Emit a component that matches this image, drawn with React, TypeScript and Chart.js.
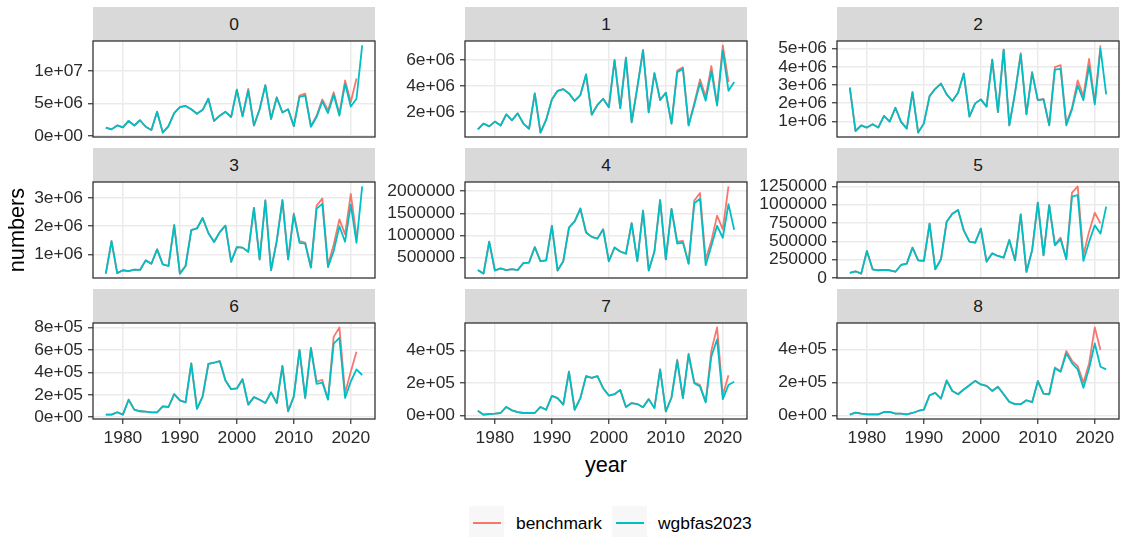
import React, { useEffect, useRef } from 'react';
import { Chart, registerables } from 'chart.js';

Chart.register(...registerables);

// ---------- data ----------
const years = [
  1977, 1978, 1979, 1980, 1981, 1982, 1983, 1984, 1985, 1986,
  1987, 1988, 1989, 1990, 1991, 1992, 1993, 1994, 1995, 1996,
  1997, 1998, 1999, 2000, 2001, 2002, 2003, 2004, 2005, 2006,
  2007, 2008, 2009, 2010, 2011, 2012, 2013, 2014, 2015, 2016,
  2017, 2018, 2019, 2020, 2021, 2022,
];

const ageClasses = ['0', '1', '2', '3', '4', '5', '6', '7', '8'];
const seriesNames = ['benchmark', 'wgbfas2023'];

const wgb0 = [1.26e6, 1.0e6, 1.6e6, 1.3e6, 2.3e6, 1.6e6, 2.4e6, 1.4e6, 0.9e6, 3.7e6, 0.5e6, 1.5e6, 3.5e6, 4.4e6, 4.6e6, 4.1e6, 3.4e6, 4.0e6, 5.7e6, 2.3e6, 3.1e6, 3.7e6, 2.9e6, 7.1e6, 3.0e6, 7.0e6, 1.6e6, 4.1e6, 7.8e6, 2.6e6, 5.9e6, 3.6e6, 4.1e6, 1.5e6, 6.0e6, 6.2e6, 1.4e6, 2.9e6, 5.3e6, 3.5e6, 6.3e6, 3.1e6, 8.0e6, 4.5e6, 5.7e6, 13.9e6];
const bench0 = [1.26e6, 1.0e6, 1.6e6, 1.3e6, 2.3e6, 1.6e6, 2.4e6, 1.4e6, 0.9e6, 3.7e6, 0.5e6, 1.5e6, 3.5e6, 4.4e6, 4.6e6, 4.1e6, 3.4e6, 4.0e6, 5.7e6, 2.3e6, 3.1e6, 3.7e6, 2.9e6, 7.1e6, 3.0e6, 7.2e6, 1.6e6, 4.1e6, 7.8e6, 2.6e6, 5.9e6, 3.6e6, 4.1e6, 1.5e6, 6.2e6, 6.5e6, 1.5e6, 3.1e6, 5.6e6, 3.9e6, 6.7e6, 3.4e6, 8.5e6, 5.2e6, 8.8e6];

const wgb1 = [0.67e6, 1.12e6, 0.9e6, 1.27e6, 0.97e6, 1.83e6, 1.37e6, 1.9e6, 1.12e6, 0.72e6, 3.44e6, 0.42e6, 1.42e6, 2.98e6, 3.64e6, 3.77e6, 3.44e6, 2.86e6, 3.31e6, 4.9e6, 1.8e6, 2.56e6, 3.03e6, 2.38e6, 6.0e6, 2.3e6, 6.16e6, 1.22e6, 3.9e6, 6.76e6, 1.98e6, 5.0e6, 2.93e6, 3.49e6, 1.12e6, 5.07e6, 5.33e6, 0.97e6, 2.56e6, 4.24e6, 2.88e6, 5.15e6, 2.5e6, 6.76e6, 3.64e6, 4.32e6];
const bench1 = [0.67e6, 1.12e6, 0.9e6, 1.27e6, 0.97e6, 1.83e6, 1.37e6, 1.9e6, 1.12e6, 0.72e6, 3.44e6, 0.42e6, 1.42e6, 2.98e6, 3.64e6, 3.77e6, 3.44e6, 2.86e6, 3.31e6, 4.9e6, 1.8e6, 2.56e6, 3.03e6, 2.38e6, 6.0e6, 2.3e6, 6.22e6, 1.22e6, 3.9e6, 6.8e6, 1.98e6, 5.0e6, 2.93e6, 3.49e6, 1.12e6, 5.2e6, 5.45e6, 1.0e6, 2.7e6, 4.52e6, 3.19e6, 5.55e6, 2.6e6, 7.14e6, 4.32e6];

const wgb2 = [2.85e6, 0.47e6, 0.78e6, 0.66e6, 0.84e6, 0.66e6, 1.3e6, 0.99e6, 1.75e6, 0.97e6, 0.6e6, 2.61e6, 0.38e6, 0.89e6, 2.39e6, 2.79e6, 3.08e6, 2.48e6, 2.12e6, 2.57e6, 3.63e6, 1.26e6, 1.99e6, 2.21e6, 1.81e6, 4.4e6, 1.51e6, 4.95e6, 0.78e6, 2.57e6, 4.67e6, 1.39e6, 3.67e6, 2.17e6, 2.21e6, 0.78e6, 3.85e6, 3.89e6, 0.78e6, 1.66e6, 2.97e6, 2.17e6, 4.03e6, 1.93e6, 5.0e6, 2.48e6];
const bench2 = [2.85e6, 0.47e6, 0.78e6, 0.66e6, 0.84e6, 0.66e6, 1.3e6, 0.99e6, 1.75e6, 0.97e6, 0.6e6, 2.61e6, 0.38e6, 0.89e6, 2.39e6, 2.79e6, 3.08e6, 2.48e6, 2.12e6, 2.57e6, 3.63e6, 1.26e6, 1.99e6, 2.21e6, 1.81e6, 4.4e6, 1.51e6, 4.95e6, 0.78e6, 2.57e6, 4.75e6, 1.39e6, 3.72e6, 2.17e6, 2.23e6, 0.8e6, 3.98e6, 4.09e6, 0.89e6, 1.75e6, 3.25e6, 2.39e6, 4.43e6, 2.03e6, 5.18e6];

const wgb3 = [0.32e6, 1.47e6, 0.34e6, 0.44e6, 0.41e6, 0.46e6, 0.45e6, 0.79e6, 0.67e6, 1.18e6, 0.65e6, 0.59e6, 2.04e6, 0.32e6, 0.59e6, 1.86e6, 1.92e6, 2.29e6, 1.76e6, 1.44e6, 1.79e6, 2.02e6, 0.74e6, 1.26e6, 1.24e6, 1.09e6, 2.65e6, 0.82e6, 2.91e6, 0.44e6, 1.47e6, 2.91e6, 0.82e6, 2.41e6, 1.41e6, 1.38e6, 0.53e6, 2.62e6, 2.79e6, 0.55e6, 1.12e6, 2.0e6, 1.45e6, 2.76e6, 1.41e6, 3.41e6];
const bench3 = [0.32e6, 1.47e6, 0.34e6, 0.44e6, 0.41e6, 0.46e6, 0.45e6, 0.79e6, 0.67e6, 1.18e6, 0.65e6, 0.59e6, 2.04e6, 0.32e6, 0.59e6, 1.86e6, 1.92e6, 2.29e6, 1.76e6, 1.44e6, 1.79e6, 2.02e6, 0.74e6, 1.26e6, 1.24e6, 1.09e6, 2.65e6, 0.82e6, 2.91e6, 0.44e6, 1.47e6, 2.93e6, 0.83e6, 2.45e6, 1.47e6, 1.42e6, 0.55e6, 2.73e6, 2.98e6, 0.62e6, 1.35e6, 2.24e6, 1.71e6, 3.14e6, 1.65e6];

const wgb4 = [0.22e6, 0.14e6, 0.86e6, 0.21e6, 0.26e6, 0.22e6, 0.24e6, 0.22e6, 0.38e6, 0.39e6, 0.74e6, 0.42e6, 0.44e6, 1.22e6, 0.21e6, 0.42e6, 1.18e6, 1.32e6, 1.61e6, 1.07e6, 0.97e6, 0.93e6, 1.14e6, 0.42e6, 0.73e6, 0.64e6, 0.59e6, 1.28e6, 0.42e6, 1.56e6, 0.21e6, 0.64e6, 1.8e6, 0.46e6, 1.6e6, 0.82e6, 0.84e6, 0.36e6, 1.73e6, 1.83e6, 0.33e6, 0.77e6, 1.22e6, 0.95e6, 1.71e6, 1.13e6];
const bench4 = [0.22e6, 0.14e6, 0.86e6, 0.21e6, 0.26e6, 0.22e6, 0.24e6, 0.22e6, 0.38e6, 0.39e6, 0.74e6, 0.42e6, 0.44e6, 1.22e6, 0.21e6, 0.42e6, 1.18e6, 1.32e6, 1.61e6, 1.07e6, 0.97e6, 0.93e6, 1.14e6, 0.42e6, 0.73e6, 0.64e6, 0.59e6, 1.28e6, 0.42e6, 1.56e6, 0.21e6, 0.64e6, 1.8e6, 0.46e6, 1.6e6, 0.86e6, 0.88e6, 0.37e6, 1.79e6, 1.96e6, 0.46e6, 0.88e6, 1.45e6, 1.14e6, 2.11e6];

const wgb5 = [68e3, 91e3, 59e3, 368e3, 118e3, 105e3, 109e3, 105e3, 85e3, 177e3, 195e3, 414e3, 241e3, 232e3, 741e3, 118e3, 255e3, 768e3, 877e3, 927e3, 650e3, 495e3, 482e3, 673e3, 223e3, 336e3, 300e3, 277e3, 518e3, 241e3, 868e3, 82e3, 377e3, 1027e3, 309e3, 995e3, 445e3, 527e3, 255e3, 1109e3, 1132e3, 232e3, 495e3, 718e3, 605e3, 973e3];
const bench5 = [68e3, 91e3, 59e3, 368e3, 118e3, 105e3, 109e3, 105e3, 85e3, 177e3, 195e3, 414e3, 241e3, 232e3, 741e3, 118e3, 255e3, 768e3, 877e3, 927e3, 650e3, 495e3, 482e3, 673e3, 223e3, 336e3, 300e3, 277e3, 518e3, 241e3, 868e3, 82e3, 377e3, 1027e3, 309e3, 995e3, 455e3, 550e3, 262e3, 1164e3, 1250e3, 314e3, 632e3, 890e3, 745e3];

const wgb6 = [23e3, 23e3, 44e3, 23e3, 156e3, 68e3, 53e3, 50e3, 44e3, 44e3, 97e3, 91e3, 206e3, 150e3, 132e3, 479e3, 74e3, 185e3, 474e3, 485e3, 500e3, 326e3, 250e3, 256e3, 338e3, 112e3, 179e3, 156e3, 126e3, 221e3, 126e3, 456e3, 53e3, 185e3, 597e3, 171e3, 612e3, 297e3, 309e3, 156e3, 656e3, 706e3, 171e3, 318e3, 426e3, 376e3];
const bench6 = [23e3, 23e3, 44e3, 23e3, 156e3, 68e3, 53e3, 50e3, 44e3, 44e3, 97e3, 91e3, 206e3, 150e3, 132e3, 479e3, 74e3, 185e3, 474e3, 485e3, 500e3, 326e3, 250e3, 256e3, 338e3, 112e3, 179e3, 156e3, 126e3, 221e3, 126e3, 456e3, 53e3, 185e3, 600e3, 171e3, 620e3, 318e3, 332e3, 160e3, 715e3, 800e3, 215e3, 406e3, 582e3];

const wgb7 = [30e3, 6e3, 10e3, 12e3, 16e3, 53e3, 32e3, 22e3, 16e3, 16e3, 16e3, 53e3, 36e3, 121e3, 107e3, 67e3, 269e3, 36e3, 107e3, 242e3, 232e3, 242e3, 168e3, 123e3, 131e3, 158e3, 53e3, 77e3, 71e3, 51e3, 101e3, 46e3, 283e3, 26e3, 111e3, 335e3, 107e3, 374e3, 198e3, 178e3, 81e3, 364e3, 467e3, 101e3, 188e3, 208e3];
const bench7 = [30e3, 6e3, 10e3, 12e3, 16e3, 53e3, 32e3, 22e3, 16e3, 16e3, 16e3, 53e3, 36e3, 121e3, 107e3, 67e3, 269e3, 36e3, 107e3, 242e3, 232e3, 242e3, 168e3, 123e3, 131e3, 158e3, 53e3, 77e3, 71e3, 51e3, 101e3, 46e3, 283e3, 26e3, 111e3, 343e3, 107e3, 380e3, 204e3, 188e3, 85e3, 400e3, 541e3, 127e3, 248e3];

const wgb8 = [6e3, 18e3, 12e3, 8e3, 8e3, 8e3, 22e3, 22e3, 12e3, 12e3, 8e3, 16e3, 28e3, 36e3, 123e3, 137e3, 103e3, 210e3, 149e3, 129e3, 158e3, 184e3, 210e3, 188e3, 180e3, 149e3, 174e3, 129e3, 83e3, 69e3, 69e3, 93e3, 81e3, 208e3, 133e3, 129e3, 285e3, 265e3, 376e3, 317e3, 279e3, 168e3, 285e3, 436e3, 295e3, 279e3];
const bench8 = [6e3, 18e3, 12e3, 8e3, 8e3, 8e3, 22e3, 22e3, 12e3, 12e3, 8e3, 16e3, 28e3, 36e3, 123e3, 137e3, 103e3, 214e3, 149e3, 129e3, 158e3, 184e3, 210e3, 188e3, 180e3, 149e3, 174e3, 129e3, 83e3, 69e3, 69e3, 93e3, 81e3, 208e3, 133e3, 129e3, 291e3, 268e3, 390e3, 331e3, 299e3, 198e3, 315e3, 533e3, 396e3];

// tick values / labels
const xTicks = [1980, 1990, 2000, 2010, 2020];
const xTickLabels = ['1980', '1990', '2000', '2010', '2020'];

const yTicks0 = [0, 5e6, 1e7];
const yLabels0 = ['0e+00', '5e+06', '1e+07'];
const yTicks1 = [2e6, 4e6, 6e6];
const yLabels1 = ['2e+06', '4e+06', '6e+06'];
const yTicks2 = [1e6, 2e6, 3e6, 4e6, 5e6];
const yLabels2 = ['1e+06', '2e+06', '3e+06', '4e+06', '5e+06'];
const yTicks3 = [1e6, 2e6, 3e6];
const yLabels3 = ['1e+06', '2e+06', '3e+06'];
const yTicks4 = [500000, 1000000, 1500000, 2000000];
const yLabels4 = ['500000', '1000000', '1500000', '2000000'];
const yTicks5 = [0, 250000, 500000, 750000, 1000000, 1250000];
const yLabels5 = ['0', '250000', '500000', '750000', '1000000', '1250000'];
const yTicks6 = [0, 2e5, 4e5, 6e5, 8e5];
const yLabels6 = ['0e+00', '2e+05', '4e+05', '6e+05', '8e+05'];
const yTicks7 = [0, 2e5, 4e5];
const yLabels7 = ['0e+00', '2e+05', '4e+05'];
const yTicks8 = [0, 2e5, 4e5];
const yLabels8 = ['0e+00', '2e+05', '4e+05'];

const panels = [
  { wgb: wgb0, bench: bench0, ticks: yTicks0, labels: yLabels0 },
  { wgb: wgb1, bench: bench1, ticks: yTicks1, labels: yLabels1 },
  { wgb: wgb2, bench: bench2, ticks: yTicks2, labels: yLabels2 },
  { wgb: wgb3, bench: bench3, ticks: yTicks3, labels: yLabels3 },
  { wgb: wgb4, bench: bench4, ticks: yTicks4, labels: yLabels4 },
  { wgb: wgb5, bench: bench5, ticks: yTicks5, labels: yLabels5 },
  { wgb: wgb6, bench: bench6, ticks: yTicks6, labels: yLabels6 },
  { wgb: wgb7, bench: bench7, ticks: yTicks7, labels: yLabels7 },
  { wgb: wgb8, bench: bench8, ticks: yTicks8, labels: yLabels8 },
];

// ---------- styling / layout ----------
const RED = '#F8766D';
const CYAN = '#00BFC4';
const GRID = '#ebebeb';
const DARK = '#333333';
const TICK_TEXT = '#2b2b2b';
const FONT = '"Liberation Sans", Arial, Helvetica, sans-serif';
const SMALL = 17.4;
const BIG = 21.7;

const COL_LEFT = [93, 465, 837];
const ROW_TOP = [41, 182, 323];
const PLOT_W = 282;
const PLOT_H = 96;
const STRIP_H = 34;
const YAXIS_W = 90;
const PAD_T = 14;
const PAD_R = 2;
const PAD_B = 12;
const XAXIS_H = 32;
const X_MIN = 1974.75;
const X_MAX = 2024.25;

const framePlugin = {
  id: 'panelFrame',
  afterDraw(chart: any) {
    const { ctx, chartArea: a } = chart;
    ctx.save();
    ctx.strokeStyle = DARK;
    ctx.lineWidth = 1.3;
    ctx.strokeRect(a.left, a.top, a.right - a.left, a.bottom - a.top);
    ctx.restore();
  },
};

function Panel({ idx }: { idx: number }) {
  const ref = useRef<HTMLCanvasElement>(null);
  const col = idx % 3;
  const row = Math.floor(idx / 3);
  const bottomRow = row === 2;
  const cw = YAXIS_W + PLOT_W + PAD_R;
  const ch = PAD_T + PLOT_H + (bottomRow ? XAXIS_H : PAD_B);

  useEffect(() => {
    const p = panels[idx];
    const all = [...p.wgb, ...p.bench];
    const lo = Math.min(...all);
    const hi = Math.max(...all);
    const pad = (hi - lo) * 0.05;
    const chart = new Chart(ref.current as HTMLCanvasElement, {
      type: 'line',
      data: {
        datasets: [
          {
            label: seriesNames[1],
            data: p.wgb.map((v, i) => ({ x: years[i], y: v })),
            borderColor: CYAN,
            backgroundColor: CYAN,
            order: 0,
          },
          {
            label: seriesNames[0],
            data: p.bench.map((v, i) => ({ x: years[i], y: v })),
            borderColor: RED,
            backgroundColor: RED,
            order: 1,
          },
        ],
      },
      options: {
        animation: false,
        responsive: false,
        maintainAspectRatio: false,
        events: [],
        layout: { padding: { top: PAD_T, right: PAD_R, bottom: bottomRow ? 0 : PAD_B, left: 0 } },
        plugins: { legend: { display: false }, tooltip: { enabled: false } },
        elements: {
          point: { radius: 0 },
          line: { borderWidth: 1.8, tension: 0, borderJoinStyle: 'round', fill: false },
        },
        scales: {
          x: {
            type: 'linear',
            min: X_MIN,
            max: X_MAX,
            afterBuildTicks: (s: any) => {
              s.ticks = xTicks.map((v) => ({ value: v }));
            },
            afterFit: (s: any) => {
              s.height = bottomRow ? XAXIS_H : 0;
              s.paddingLeft = 0;
              s.paddingRight = 0;
              s.paddingTop = 0;
              s.paddingBottom = 0;
            },
            grid: {
              color: GRID,
              lineWidth: 1.5,
              drawTicks: bottomRow,
              tickLength: 5,
              tickColor: DARK,
              tickWidth: 1.2,
            },
            border: { display: false },
            ticks: {
              display: bottomRow,
              autoSkip: false,
              maxRotation: 0,
              padding: 4,
              color: TICK_TEXT,
              font: { family: FONT, size: SMALL },
              callback: (_v: any, i: number) => xTickLabels[i],
            },
          },
          y: {
            type: 'linear',
            min: lo - pad,
            max: hi + pad,
            afterBuildTicks: (s: any) => {
              s.ticks = p.ticks.map((v) => ({ value: v }));
            },
            afterFit: (s: any) => {
              s.width = YAXIS_W;
              s.paddingTop = 0;
              s.paddingBottom = 0;
              s.paddingLeft = 0;
              s.paddingRight = 0;
            },
            grid: {
              color: GRID,
              lineWidth: 1.5,
              drawTicks: true,
              tickLength: 5,
              tickColor: DARK,
              tickWidth: 1.2,
            },
            border: { display: false },
            ticks: {
              autoSkip: false,
              padding: 5,
              color: TICK_TEXT,
              font: { family: FONT, size: SMALL },
              callback: (_v: any, i: number) => p.labels[i],
            },
          },
        },
      },
      plugins: [framePlugin],
    } as any);
    return () => chart.destroy();
  }, [idx]);

  return (
    <>
      <div
        style={{
          position: 'absolute',
          left: COL_LEFT[col],
          top: ROW_TOP[row] - STRIP_H,
          width: PLOT_W,
          height: STRIP_H,
          background: '#d9d9d9',
          color: '#1a1a1a',
          fontFamily: FONT,
          fontSize: SMALL,
          display: 'flex',
          alignItems: 'center',
          justifyContent: 'center',
        }}
      >
        {ageClasses[idx]}
      </div>
      <canvas
        ref={ref}
        width={cw}
        height={ch}
        style={{
          position: 'absolute',
          left: COL_LEFT[col] - YAXIS_W,
          top: ROW_TOP[row] - PAD_T,
          width: cw,
          height: ch,
          display: 'block',
        }}
      />
    </>
  );
}

function LegendKey({ left, color, text, textLeft }: { left: number; color: string; text: string; textLeft: number }) {
  return (
    <>
      <div style={{ position: 'absolute', left, top: 506, width: 35, height: 33, background: '#f7f7f7' }} />
      <div style={{ position: 'absolute', left: left + 4, top: 522, width: 28, height: 2, background: color }} />
      <div
        style={{
          position: 'absolute',
          left: textLeft,
          top: 511,
          fontFamily: FONT,
          fontSize: SMALL,
          color: '#000',
          lineHeight: '24px',
          whiteSpace: 'nowrap',
        }}
      >
        {text}
      </div>
    </>
  );
}

export default function App() {
  useEffect(() => {
    document.body.style.margin = '0';
  }, []);
  return (
    <div
      style={{
        position: 'fixed',
        left: 0,
        top: 0,
        width: 1121,
        height: 537,
        overflow: 'hidden',
        background: '#fff',
      }}
    >
      {panels.map((_, i) => (
        <Panel key={i} idx={i} />
      ))}
      <div
        style={{
          position: 'absolute',
          left: 17 - 60,
          top: 230 - 14,
          width: 120,
          height: 28,
          transform: 'rotate(-90deg)',
          textAlign: 'center',
          fontFamily: FONT,
          fontSize: BIG,
          lineHeight: '28px',
          color: '#000',
        }}
      >
        numbers
      </div>
      <div
        style={{
          position: 'absolute',
          left: 606 - 60,
          top: 451,
          width: 120,
          height: 28,
          textAlign: 'center',
          fontFamily: FONT,
          fontSize: BIG,
          lineHeight: '28px',
          color: '#000',
        }}
      >
        year
      </div>
      <LegendKey left={469} color={RED} text={seriesNames[0]} textLeft={516} />
      <LegendKey left={612} color={CYAN} text={seriesNames[1]} textLeft={658} />
    </div>
  );
}
